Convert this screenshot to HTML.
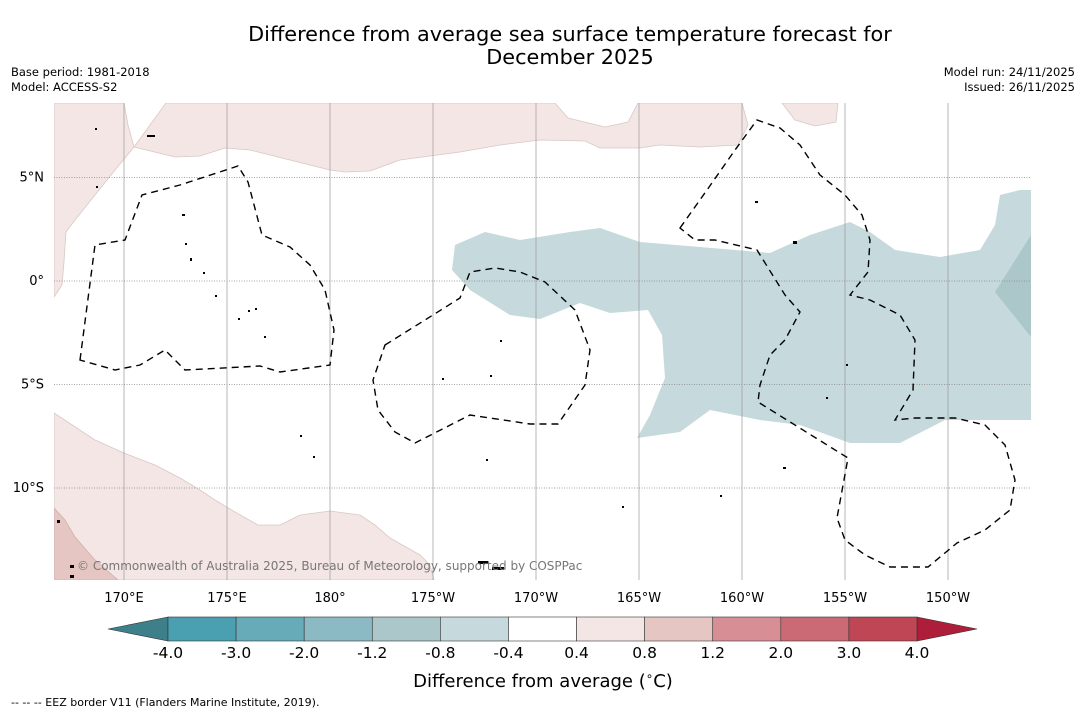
<!DOCTYPE html>
<html><head><meta charset="utf-8">
<style>
body{margin:0;background:#fff;font-family:"DejaVu Sans","Liberation Sans",sans-serif;}
#wrap{position:relative;width:1085px;height:713px;overflow:hidden;background:#fff}
</style></head>
<body>
<div id="wrap">
<svg id="svg" width="1085" height="713" xmlns="http://www.w3.org/2000/svg" font-family="DejaVu Sans, Liberation Sans, sans-serif">
  <text x="570" y="41" font-size="20.8" text-anchor="middle" fill="#000">Difference from average sea surface temperature forecast for</text>
  <text x="570" y="64" font-size="20.8" text-anchor="middle" fill="#000">December 2025</text>
  <text x="11" y="76" font-size="11.5">Base period: 1981-2018</text>
  <text x="11" y="91" font-size="11.5">Model: ACCESS-S2</text>
  <text x="1075" y="76" font-size="11.5" text-anchor="end">Model run: 24/11/2025</text>
  <text x="1075" y="91" font-size="11.5" text-anchor="end">Issued: 26/11/2025</text>
  <defs><clipPath id="mapclip"><rect x="54" y="103" width="977" height="477"/></clipPath></defs>
  <g id="map" clip-path="url(#mapclip)">
    <rect x="54" y="103" width="977" height="477" fill="#fff"/>
    <polygon fill="#f3e6e5" stroke="#d8c8c6" stroke-width="0.8" points="54,103 124,103 128,125 134,147 115,170 95,195 75,220 66,232 64,262 62,285 54,297"/>
    <polygon fill="#f3e6e5" stroke="#d8c8c6" stroke-width="0.8" points="134,147 166,103 555,103 568,118 605,127 628,122 638,103 742,103 748,125 738,145 700,147 660,145 640,148 600,148 585,141 540,140 500,145 460,152 400,160 370,171 345,172 330,170 290,160 250,150 225,148 200,156 175,157"/>
    <polygon fill="#f3e6e5" stroke="#d8c8c6" stroke-width="0.8" points="782,103 838,103 836,122 815,126 795,120"/>
    <polygon fill="#f3e6e5" stroke="#d8c8c6" stroke-width="0.8" points="54,413 95,440 124,453 155,465 180,478 200,490 215,500 235,512 258,525 280,525 300,515 330,511 360,515 375,525 390,538 420,555 430,565 434,580 54,580"/>
    <polygon fill="#e6c6c2" stroke="#d0b0ac" stroke-width="0.8" points="54,508 65,520 75,537 95,560 118,580 54,580"/>
    <polygon fill="#c6d9dc" points="455,245 485,232 520,240 570,232 600,228 640,242 700,247 770,253 810,235 850,222 870,232 895,250 940,257 980,250 995,225 1000,195 1020,190 1031,190 1031,420 980,420 945,420 900,443 850,443 800,425 760,420 710,410 680,432 637,438 650,415 665,378 662,335 648,310 610,313 580,303 540,319 510,315 470,290 452,270"/>
    <polygon fill="#abc7c9" points="1031,235 995,292 1031,337"/>
    <g id="grid"></g>
    <g fill="none" stroke="#000" stroke-width="1.4" stroke-dasharray="7,5">
      <polygon points="80,360 95,245 125,240 142,195 180,185 238,166 248,182 262,235 290,247 310,265 325,290 334,330 330,365 280,372 260,366 185,370 165,350 140,365 115,370"/>
      <polygon points="385,345 425,320 460,298 470,272 495,268 520,272 545,282 575,310 590,350 585,385 558,424 530,424 470,415 415,443 395,432 378,410 373,380"/>
      <polygon points="680,228 707,190 735,150 757,120 780,128 800,145 820,175 845,195 862,215 870,240 868,272 850,295 870,300 900,315 915,340 913,390 895,420 915,418 955,418 985,425 1005,445 1015,480 1010,510 985,530 957,543 928,567 890,567 865,555 845,540 837,518 848,458 758,402 760,385 770,355 785,340 800,312 785,295 757,250 715,240 695,240"/>
    </g>
    <g fill="#000">
      <rect x="185" y="243" width="2" height="2"/><rect x="190" y="258" width="2" height="3"/><rect x="203" y="272" width="2" height="2"/>
      <rect x="215" y="295" width="2" height="2"/><rect x="248" y="310" width="2" height="2"/><rect x="182" y="214" width="3" height="2"/>
      <rect x="500" y="340" width="2" height="2"/><rect x="490" y="375" width="2" height="2"/><rect x="442" y="378" width="2" height="2"/>
      <rect x="755" y="201" width="3" height="2"/><rect x="793" y="241" width="4" height="3"/><rect x="783" y="467" width="3" height="2"/>
      <rect x="720" y="495" width="2" height="2"/><rect x="478" y="561" width="10" height="3"/><rect x="492" y="567" width="12" height="3"/>
      <rect x="70" y="565" width="4" height="3"/><rect x="70" y="575" width="4" height="3"/><rect x="57" y="520" width="3" height="3"/>
      <rect x="95" y="128" width="2" height="2"/><rect x="147" y="135" width="8" height="2"/><rect x="96" y="186" width="2" height="2"/>
      <rect x="255" y="308" width="2" height="2"/><rect x="264" y="336" width="2" height="2"/><rect x="238" y="318" width="2" height="2"/>
      <rect x="300" y="435" width="2" height="2"/><rect x="313" y="456" width="2" height="2"/><rect x="486" y="459" width="2" height="2"/>
      <rect x="622" y="506" width="2" height="2"/><rect x="846" y="364" width="2" height="2"/><rect x="826" y="397" width="2" height="2"/>
    </g>
    <text x="77" y="570" font-size="12" fill="#777">© Commonwealth of Australia 2025, Bureau of Meteorology, supported by COSPPac</text>
  </g>
  <g id="ticks"></g>
  <g id="cbar"></g>
  <text x="543" y="687" font-size="18" text-anchor="middle">Difference from average (<tspan font-size="12" dy="-7">∘</tspan><tspan dy="7">C)</tspan></text>
  <text x="11" y="706" font-size="11">--  --  -- EEZ border V11 (Flanders Marine Institute, 2019).</text>
</svg>
</div>
<script>
const lonTicks=[170,175,180,185,190,195,200,205,210];
const lonLabels=["170°E","175°E","180°","175°W","170°W","165°W","160°W","155°W","150°W"];
const latTicks=[5,0,-5,-10];
const latLabels=["5°N","0°","5°S","10°S"];
const cbarLabels=["-4.0","-3.0","-2.0","-1.2","-0.8","-0.4","0.4","0.8","1.2","2.0","3.0","4.0"];
const cbarColors=["#4aa0b0","#68abb8","#8bb9c4","#abc7c9","#c6d9dc","#ffffff","#f3e6e5","#e6c6c2","#d78f95","#cb6a74","#bf4654"];
const cbarLow="#3d808a", cbarHigh="#ae1e3a";
const NS="http://www.w3.org/2000/svg";
const xLon=l=>124+(l-170)*20.6;
const yLat=l=>281-l*20.7;
function mk(tag,attrs,parent){const e=document.createElementNS(NS,tag);for(const k in attrs)e.setAttribute(k,attrs[k]);parent.appendChild(e);return e;}
const grid=document.getElementById('grid'),ticks=document.getElementById('ticks'),cbar=document.getElementById('cbar');
lonTicks.forEach((l,i)=>{
  const ln=mk('line',{x1:xLon(l),x2:xLon(l),y1:103,y2:580,stroke:'#999','stroke-width':0.7},grid);
  
  
  const t=mk('text',{x:xLon(l),y:602,'font-size':13,'text-anchor':'middle'},ticks);t.textContent=lonLabels[i];
  
  
});
latTicks.forEach((l,i)=>{
  const ln=mk('line',{x1:54,x2:1031,y1:yLat(l),y2:yLat(l),stroke:'#888','stroke-width':0.7,'stroke-dasharray':'1,1.5'},grid);
  
  
  const t=mk('text',{x:44,y:yLat(l)+4,'font-size':13,'text-anchor':'end'},ticks);t.textContent=latLabels[i];
  
  
});
const cx0=168,cx1=917,cy=617,ch=24,bw=(cx1-cx0)/cbarColors.length;
const lt=mk('polygon',{points:`${cx0},${cy} 108,${cy+ch/2} ${cx0},${cy+ch}`,fill:cbarLow,stroke:'#333','stroke-width':0.6},cbar);


const rt=mk('polygon',{points:`${cx1},${cy} 977,${cy+ch/2} ${cx1},${cy+ch}`,fill:cbarHigh,stroke:'#333','stroke-width':0.6},cbar);


cbarColors.forEach((c,i)=>{
  const r=mk('rect',{x:cx0+i*bw,y:cy,width:bw,height:ch,fill:c,stroke:'#333','stroke-width':0.6},cbar);
  
  
});
cbarLabels.forEach((s,i)=>{
  const t=mk('text',{x:cx0+i*bw,y:658,'font-size':15.5,'text-anchor':'middle'},cbar);t.textContent=s;
  
  
});
</script>
</body></html>
